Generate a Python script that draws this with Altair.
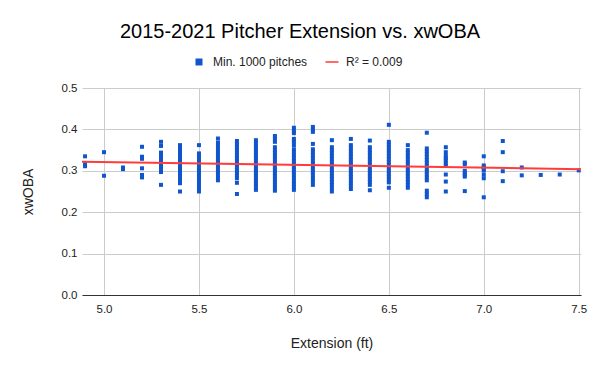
import altair as alt
import pandas as pd

FONT = "Liberation Sans"

series_label = "Min. 1000 pitches"
trend_label = "R² = 0.009"

extension = [4.9, 5.0, 5.1, 5.2, 5.3, 5.4, 5.5, 5.6, 5.7, 5.8, 5.9, 6.0, 6.1,
             6.2, 6.3, 6.4, 6.5, 6.6, 6.7, 6.8, 6.9, 7.0, 7.1, 7.2, 7.3, 7.4, 7.5]

xw_49 = [0.335, 0.316, 0.311]
xw_50 = [0.345, 0.288]
xw_51 = [0.308, 0.304]
xw_52 = [0.358, 0.334, 0.329, 0.306, 0.290, 0.284]
xw_53 = [0.370, 0.360, 0.344, 0.338, 0.331, 0.324, 0.317, 0.310, 0.303, 0.297, 0.266]
xw_54 = [0.362, 0.355, 0.348, 0.341, 0.334, 0.327, 0.320, 0.313, 0.306, 0.299,
         0.292, 0.285, 0.278, 0.270, 0.250]
xw_55 = [0.362, 0.342, 0.335, 0.328, 0.321, 0.314, 0.307, 0.300, 0.293, 0.286,
         0.279, 0.272, 0.265, 0.258, 0.250]
xw_56 = [0.378, 0.368, 0.361, 0.354, 0.347, 0.340, 0.333, 0.326, 0.319, 0.312,
         0.305, 0.298, 0.291, 0.284, 0.277]
xw_57 = [0.372, 0.365, 0.358, 0.351, 0.344, 0.337, 0.330, 0.323, 0.316, 0.309,
         0.302, 0.295, 0.288, 0.282, 0.271, 0.244]
xw_58 = [0.374, 0.366, 0.359, 0.352, 0.345, 0.338, 0.331, 0.324, 0.317, 0.310,
         0.303, 0.296, 0.289, 0.282, 0.275, 0.268, 0.261, 0.254]
xw_59 = [0.384, 0.377, 0.370, 0.357, 0.350, 0.343, 0.336, 0.329, 0.322, 0.315,
         0.308, 0.301, 0.294, 0.287, 0.280, 0.273, 0.266, 0.259, 0.252]
xw_60 = [0.404, 0.397, 0.391, 0.377, 0.370, 0.362, 0.352, 0.345, 0.338, 0.331,
         0.324, 0.317, 0.310, 0.303, 0.296, 0.289, 0.282, 0.275, 0.268, 0.261, 0.254]
xw_61 = [0.406, 0.400, 0.394, 0.365, 0.352, 0.345, 0.338, 0.331, 0.324, 0.317,
         0.310, 0.303, 0.296, 0.289, 0.282, 0.275, 0.266]
xw_62 = [0.374, 0.357, 0.350, 0.343, 0.336, 0.329, 0.322, 0.315, 0.308, 0.301,
         0.294, 0.287, 0.280, 0.273, 0.266, 0.258, 0.250]
xw_63 = [0.377, 0.362, 0.355, 0.348, 0.341, 0.334, 0.327, 0.320, 0.313, 0.306,
         0.299, 0.292, 0.285, 0.278, 0.271, 0.264, 0.256]
xw_64 = [0.373, 0.357, 0.350, 0.343, 0.336, 0.329, 0.322, 0.315, 0.308, 0.301,
         0.294, 0.287, 0.280, 0.273, 0.266, 0.253]
xw_65 = [0.411, 0.370, 0.363, 0.356, 0.349, 0.342, 0.335, 0.328, 0.321, 0.314,
         0.307, 0.300, 0.293, 0.286, 0.279, 0.272, 0.259]
xw_66 = [0.362, 0.350, 0.343, 0.336, 0.329, 0.322, 0.315, 0.308, 0.301, 0.294,
         0.287, 0.280, 0.273, 0.266, 0.259]
xw_67 = [0.392, 0.354, 0.347, 0.340, 0.333, 0.326, 0.319, 0.312, 0.305, 0.298,
         0.291, 0.284, 0.277, 0.252, 0.244, 0.236]
xw_68 = [0.357, 0.345, 0.336, 0.330, 0.325, 0.318, 0.312, 0.291, 0.274, 0.250]
xw_69 = [0.320, 0.316, 0.300, 0.295, 0.290, 0.286, 0.251]
xw_70 = [0.335, 0.313, 0.309, 0.305, 0.301, 0.291, 0.282, 0.236]
xw_71 = [0.372, 0.345, 0.299, 0.275]
xw_72 = [0.308, 0.289]
xw_73 = [0.290]
xw_74 = [0.291]
xw_75 = [0.301]

columns = [xw_49, xw_50, xw_51, xw_52, xw_53, xw_54, xw_55, xw_56, xw_57, xw_58,
           xw_59, xw_60, xw_61, xw_62, xw_63, xw_64, xw_65, xw_66, xw_67, xw_68,
           xw_69, xw_70, xw_71, xw_72, xw_73, xw_74, xw_75]

trend_x = [4.884, 7.512]
trend_y = [0.322, 0.304]

x_ticks = [5.0, 5.5, 6.0, 6.5, 7.0, 7.5]
y_ticks = [0.0, 0.1, 0.2, 0.3, 0.4, 0.5]

rows = [{"ext": e, "xwoba": v, "series": series_label}
        for e, col in zip(extension, columns) for v in col]
df = pd.DataFrame(rows)
trend_df = pd.DataFrame({"ext": trend_x, "xwoba": trend_y,
                         "series": [trend_label] * len(trend_x)})

legend_domain = [series_label, trend_label]
color_scale = alt.Scale(domain=legend_domain, range=["#1155cc", "#ff3b3b"])
line_path = "M-1.86,-0.24L1.86,-0.24L1.86,0.24L-1.86,0.24Z M4.96,0L4.96,0"
shape_scale = alt.Scale(domain=legend_domain, range=["square", line_path])
xscale = alt.Scale(domain=[4.884, 7.512], nice=False, zero=False)
yscale = alt.Scale(domain=[0, 0.5], nice=False)

legend = alt.Legend(
    title=None, orient="none", legendX=111, legendY=-32, direction="horizontal",
    symbolSize=49, labelFont=FONT, labelFontSize=12,
    labelColor="#222222", labelOffset=8, columnPadding=17, padding=0,
    symbolStrokeWidth=0, symbolOpacity=1,
)

x_axis = alt.Axis(values=x_ticks, format=".1f", title="Extension (ft)",
                  ticks=False, tickSize=0, labelPadding=8, domainColor="#333333",
                  titleY=48, titleBaseline="middle")
y_axis = alt.Axis(values=y_ticks, format=".1f", title="xwOBA",
                  ticks=False, tickSize=0, labelPadding=5, domain=False,
                  titleX=-54, titleY=103.5, titleBaseline="middle")

points = alt.Chart(df).mark_point(filled=True, size=16, opacity=1).encode(
    x=alt.X("ext:Q", scale=xscale, axis=x_axis),
    y=alt.Y("xwoba:Q", scale=yscale, axis=y_axis),
    color=alt.Color("series:N", scale=color_scale, legend=legend),
    shape=alt.Shape("series:N", scale=shape_scale, legend=legend),
)

trend = alt.Chart(trend_df).mark_line(strokeWidth=2, clip=True).encode(
    x=alt.X("ext:Q", scale=xscale),
    y=alt.Y("xwoba:Q", scale=yscale),
    color=alt.Color("series:N", scale=color_scale, legend=None),
)

chart = alt.layer(points, trend).properties(
    width=499,
    height=207,
    title=alt.TitleParams(
        "2015-2021 Pitcher Extension vs. xwOBA", font=FONT, fontSize=20,
        fontWeight="normal", color="#000000", anchor="middle", frame="group",
        dx=-31.5, dy=20, offset=18, baseline="alphabetic",
    ),
    padding={"left": 74, "top": 80, "right": 11, "bottom": 60},
    autosize=alt.AutoSizeParams(type="none"),
).configure_view(stroke=None).configure_axis(
    labelFont=FONT, labelFontSize=11.5, labelColor="#222222",
    titleFont=FONT, titleFontSize=14, titleFontWeight="normal", titleColor="#222222",
    gridColor="#cccccc", gridWidth=1,
)

chart.save("out.html", embed_options={"renderer": "svg", "actions": False})
